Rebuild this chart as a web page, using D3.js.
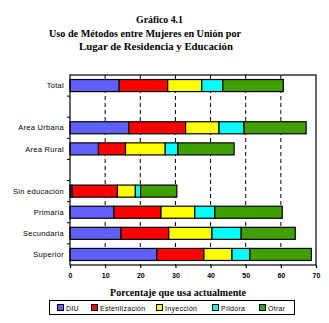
<!DOCTYPE html>
<html>
<head>
<meta charset="utf-8">
<script src="https://cdn.jsdelivr.net/npm/d3@7"></script>
<style>
  body { margin: 0; background: #fff; }
  svg { display: block; }
</style>
</head>
<body>
<div id="chart"></div>
<script>
// categories (blank entries are the empty rows in the chart)
const categories = ["Total", " ", "Area Urbana", "Area Rural", "  ", "Sin educación", "Primaria", "Secundaria", "Superior"];
const methods = ["DIU", "Esterilización", "Inyección", "Píldora", "Otras"];
const legendLabels = ["DIU", "Esterilización", "Inyección", "Píldora", "Otrar"];
const colors = ["#6060ff", "#ff0000", "#ffff00", "#00ffff", "#40a000"];

// percentages per method, one per category (0 on the blank rows)
const diu    = [14.0, 0, 16.7,  8.1, 0,  0.6, 12.5, 14.5, 24.7];
const ester  = [13.8, 0, 16.2,  7.7, 0, 12.9, 13.4, 13.6, 13.4];
const inyec  = [ 9.7, 0,  9.5, 11.3, 0,  5.1,  9.6, 12.3,  8.0];
const pildor = [ 6.0, 0,  7.1,  3.6, 0,  1.5,  5.7,  8.3,  5.1];
const otras  = [17.2, 0, 17.7, 16.0, 0, 10.3, 19.2, 15.4, 17.5];
const xTicks = [0, 10, 20, 30, 40, 50, 60, 70];

const width = 329, height = 323;
const margin = {top: 75, right: 13, bottom: 58, left: 70};
const w = width - margin.left - margin.right;
const h = height - margin.top - margin.bottom;

const svg = d3.select("#chart").append("svg")
  .attr("width", width)
  .attr("height", height);

// title
const titleFont = "'Liberation Serif', 'Times New Roman', serif";
[["Gráfico 4.1", 136, 23, 47], ["Uso de Métodos entre Mujeres en Unión por", 49, 37, 192], ["Lugar de Residencia y Educación", 79, 50, 154]]
  .forEach(([t, x, y, len]) => {
    svg.append("text")
      .attr("x", x).attr("y", y)
      .attr("textLength", len).attr("lengthAdjust", "spacingAndGlyphs")
      .style("font-family", titleFont)
      .style("font-weight", "bold")
      .style("font-size", "11px")
      .text(t);
  });

const g = svg.append("g").attr("transform", "translate(" + margin.left + "," + margin.top + ")");

const x = d3.scaleLinear().domain([0, 70]).range([0, w]);
const y = d3.scaleBand().domain(categories).range([0, h]).paddingInner(0.43).paddingOuter(0.215);

// dashed gridlines
g.append("g")
  .selectAll("line")
  .data(xTicks.slice(1, -1))
  .enter().append("line")
  .attr("x1", d => x(d)).attr("x2", d => x(d))
  .attr("y1", 0).attr("y2", h)
  .attr("stroke", "#000")
  .attr("stroke-dasharray", "4,3");

// stacked bars
const table = categories.map((c, i) => ({
  cat: c, DIU: diu[i], "Esterilización": ester[i], "Inyección": inyec[i], "Píldora": pildor[i], Otras: otras[i]
}));
const series = d3.stack().keys(methods)(table);

series.forEach((s, k) => {
  g.append("g")
    .selectAll("rect")
    .data(s.filter(d => d[1] - d[0] > 0))
    .enter().append("rect")
    .attr("x", d => x(d[0]))
    .attr("width", d => x(d[1]) - x(d[0]))
    .attr("y", d => y(d.data.cat))
    .attr("height", y.bandwidth())
    .attr("fill", colors[k])
    .attr("stroke", "#000")
    .attr("stroke-width", 1.2);
});

// frame
g.append("rect")
  .attr("width", w).attr("height", h)
  .attr("fill", "none")
  .attr("stroke", "#000")
  .attr("stroke-width", 1.2);

const labelFont = "'Liberation Sans', Arial, sans-serif";

// left axis: ticks at band boundaries, labels in the bands
const yAxis = g.append("g");
yAxis.selectAll("line")
  .data(categories.slice(1))
  .enter().append("line")
  .attr("x1", -3).attr("x2", 0)
  .attr("y1", d => y(d) - y.step() * y.paddingInner() / 2)
  .attr("y2", d => y(d) - y.step() * y.paddingInner() / 2)
  .attr("stroke", "#000");
yAxis.selectAll("text")
  .data(categories.filter(d => d.trim() !== ""))
  .enter().append("text")
  .attr("x", -6)
  .attr("y", d => y(d) + y.bandwidth() / 2)
  .attr("dy", "0.35em")
  .attr("text-anchor", "end")
  .style("font-family", labelFont)
  .style("font-size", "7.5px")
  .style("letter-spacing", "0.3px")
  .text(d => d);

// bottom axis
const xAxis = g.append("g")
  .attr("transform", "translate(0," + h + ")")
  .call(d3.axisBottom(x).tickValues(xTicks).tickSize(3).tickSizeOuter(0));
xAxis.select(".domain").remove();
xAxis.selectAll("line").attr("stroke-width", 1.2);
xAxis.selectAll("text")
  .attr("y", 8)
  .style("font-family", labelFont)
  .style("font-size", "7px")
  .style("font-weight", "bold");

// x axis title
svg.append("text")
  .attr("x", 110).attr("y", 296)
  .attr("textLength", 136).attr("lengthAdjust", "spacingAndGlyphs")
  .style("font-family", titleFont)
  .style("font-weight", "bold")
  .style("font-size", "11px")
  .text("Porcentaje que usa actualmente");

// legend
const legend = svg.append("g");
legend.append("rect")
  .attr("x", 49.5).attr("y", 300.5)
  .attr("width", 245).attr("height", 14)
  .attr("fill", "#fff")
  .attr("stroke", "#000");
const legendX = [57, 91, 156, 212, 259];
legendLabels.forEach((lab, i) => {
  legend.append("rect")
    .attr("x", legendX[i] + 0.5).attr("y", 304.5)
    .attr("width", 6).attr("height", 6)
    .attr("fill", colors[i])
    .attr("stroke", "#000");
  legend.append("text")
    .attr("x", legendX[i] + 9).attr("y", 310.5)
    .style("font-family", labelFont)
    .style("font-size", "7px")
    .style("letter-spacing", "0.3px")
    .text(lab);
});
</script>
</body>
</html>
